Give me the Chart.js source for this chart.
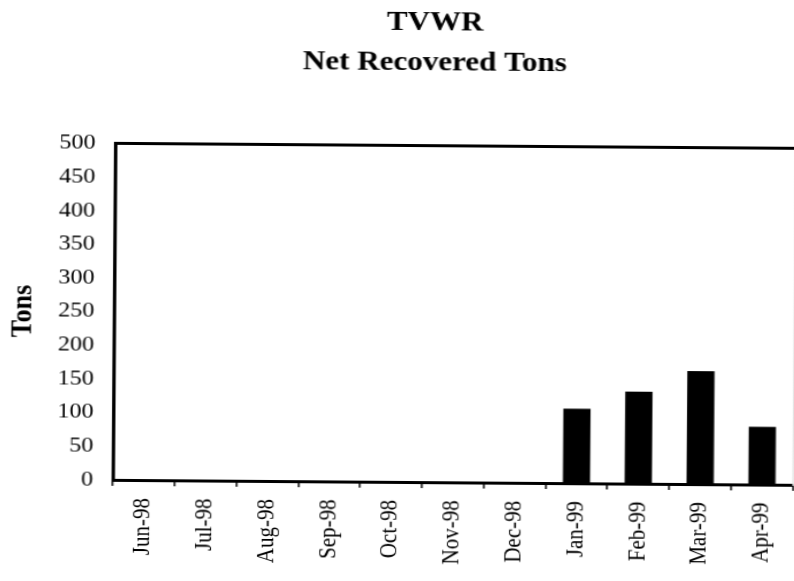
<!DOCTYPE html>
<html>
<head>
<meta charset="utf-8">
<title>TVWR Net Recovered Tons</title>
<script src="https://cdn.jsdelivr.net/npm/chart.js@4/dist/chart.umd.min.js"></script>
<style>
  html, body { margin: 0; padding: 0; background: #fff; overflow: hidden; width: 794px; height: 581px; }
  #frame {
    position: absolute; left: 0; top: 0; width: 757px; height: 581px;
    transform-origin: 0 0;
    transform: rotate(0.42deg) scaleX(1.15);
  }
  canvas { display: block; }
</style>
</head>
<body>
<div id="frame"><canvas id="chart" width="757" height="581"></canvas></div>
<script>
// Monthly net recovered tonnage, TVWR
const months = ['Jun-98', 'Jul-98', 'Aug-98', 'Sep-98', 'Oct-98', 'Nov-98',
                'Dec-98', 'Jan-99', 'Feb-99', 'Mar-99', 'Apr-99'];
const netRecoveredTons = [0, 0, 0, 0, 0, 0, 0, 111, 137, 168, 86];
const tonTicks = [0, 50, 100, 150, 200, 250, 300, 350, 400, 450, 500];
const titleLines = ['TVWR', 'Net Recovered Tons'];
const yAxisTitle = 'Tons';

const serif = 'Liberation Serif, "Times New Roman", serif';
Chart.defaults.font.family = serif;
Chart.defaults.color = '#000';

const frameBorder = { display: true, color: '#000', width: 3 };

new Chart(document.getElementById('chart'), {
  type: 'bar',
  data: {
    labels: months,
    datasets: [{
      data: netRecoveredTons,
      backgroundColor: '#000',
      borderWidth: 0,
      barPercentage: 0.44,
      categoryPercentage: 1.0
    }]
  },
  options: {
    responsive: false,
    animation: false,
    layout: { padding: 0 },
    plugins: {
      legend: { display: false },
      tooltip: { enabled: false },
      title: {
        display: true,
        text: titleLines,
        color: '#000',
        font: { family: serif, size: 27, weight: 'bold', lineHeight: 1.48 },
        padding: { top: 0, bottom: 63 }
      }
    },
    scales: {
      x: {
        type: 'category',
        position: 'bottom',
        border: frameBorder,
        grid: {
          display: true,
          offset: true,
          drawOnChartArea: false,
          drawTicks: true,
          tickLength: 6,
          color: '#000',
          tickColor: '#000',
          lineWidth: 1.5
        },
        ticks: {
          minRotation: 90,
          maxRotation: 90,
          autoSkip: false,
          padding: 12,
          color: '#000',
          font: { family: serif, size: 21 }
        },
        afterFit: (scale) => { scale.height = 102; }
      },
      xTop: {
        type: 'category',
        position: 'top',
        border: frameBorder,
        grid: { display: false, drawTicks: false },
        ticks: { display: false },
        afterFit: (scale) => { scale.height = 0; }
      },
      y: {
        position: 'left',
        min: tonTicks[0],
        max: tonTicks[tonTicks.length - 1],
        border: frameBorder,
        grid: { display: false, drawTicks: false },
        ticks: {
          stepSize: tonTicks[1] - tonTicks[0],
          padding: 17,
          color: '#000',
          font: { family: serif, size: 21 }
        },
        title: {
          display: true,
          text: yAxisTitle,
          color: '#000',
          font: { family: serif, size: 26, weight: 'bold' },
          padding: { top: 7, bottom: 0 }
        },
        afterFit: (scale) => { scale.width = 101; }
      },
      yRight: {
        position: 'right',
        min: tonTicks[0],
        max: tonTicks[tonTicks.length - 1],
        // right edge of the frame sits at the page edge and prints faintly
        border: { display: true, color: '#e4e4e4', width: 1.5 },
        grid: { display: false, drawTicks: false },
        ticks: { display: false },
        afterFit: (scale) => { scale.width = 64.5; }
      }
    }
  }
});
</script>
</body>
</html>
